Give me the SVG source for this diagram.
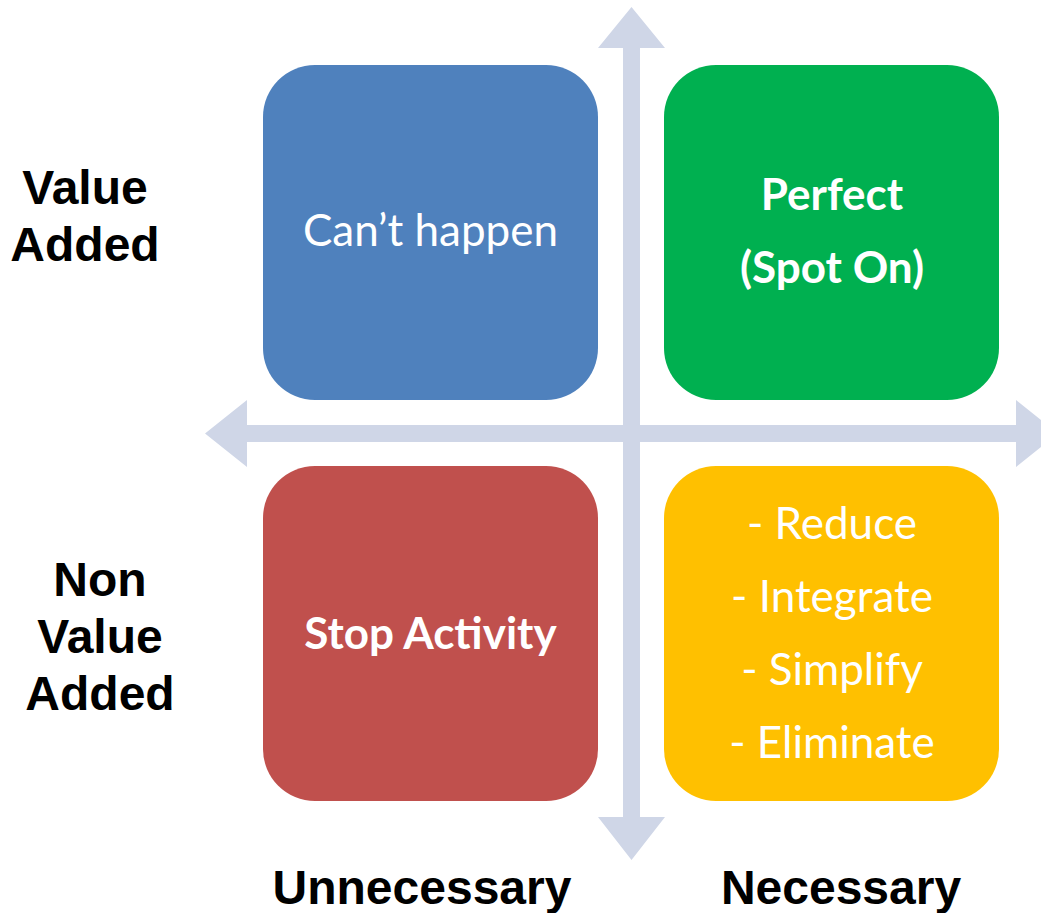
<svg xmlns="http://www.w3.org/2000/svg" width="1041" height="913" viewBox="0 0 1041 913">
<style>
.axis{fill:#CFD6E7;}
.lbl{font-family:"Liberation Sans",Arial,sans-serif;font-weight:bold;font-size:48px;fill:#000;text-anchor:middle;}
.bt{font-family:Lato,"Open Sans",sans-serif;font-size:44px;fill:#fff;text-anchor:middle;}
.bb{font-weight:bold;}
</style>
<rect width="1041" height="913" fill="#fff"/>
<g id="connectors">
<polygon class="axis" points="631.5,7 665,48 640,48 640,425 1016,425 1016,400 1058,433.5 1016,467 1016,442 640,442 640,817 665,817 631.5,860 598,817 623,817 623,442 247,442 247,467 205,433.5 247,400 247,425 623,425 623,48 598,48"/>
</g>
<g id="node-cant-happen">
<rect x="263" y="65" width="335" height="335" rx="52" fill="#4F81BD"/>
<text class="bt" x="430.5" y="246">Can’t happen</text>
</g>
<g id="node-perfect">
<rect x="664" y="65" width="335" height="335" rx="52" fill="#00B050"/>
<text class="bt bb" x="832" y="210">Perfect</text>
<text class="bt bb" x="832" y="283">(Spot On)</text>
</g>
<g id="node-stop">
<rect x="263" y="466" width="335" height="335" rx="52" fill="#C0504D"/>
<text class="bt bb" x="430.5" y="649">Stop Activity</text>
</g>
<g id="node-reduce">
<rect x="664" y="466" width="335" height="335" rx="52" fill="#FFC000"/>
<text class="bt" x="832" y="539">- Reduce</text>
<text class="bt" x="832" y="612">- Integrate</text>
<text class="bt" x="832" y="685">- Simplify</text>
<text class="bt" x="832" y="758">- Eliminate</text>
</g>
<g id="labels">
<text class="lbl" x="85" y="204">Value</text>
<text class="lbl" x="85" y="261">Added</text>
<text class="lbl" x="100" y="596">Non</text>
<text class="lbl" x="100" y="653">Value</text>
<text class="lbl" x="100" y="710">Added</text>
<text class="lbl" x="422" y="904">Unnecessary</text>
<text class="lbl" x="841" y="904">Necessary</text>
</g>
</svg>
